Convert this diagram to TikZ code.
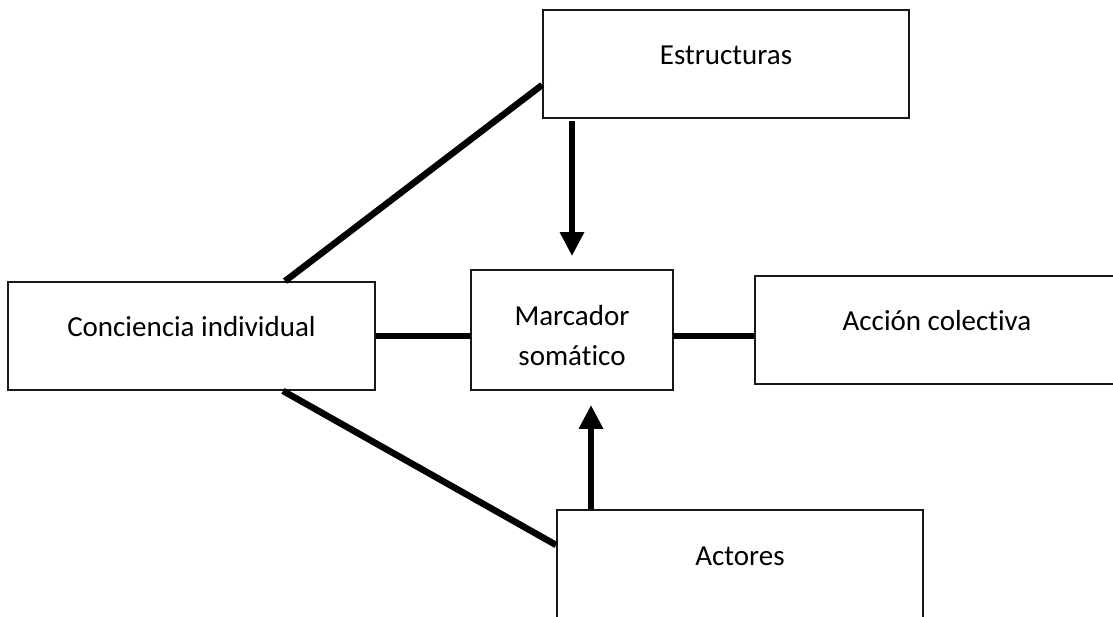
\documentclass[tikz,border=0pt]{standalone}
\usepackage{fontspec}
\setmainfont{Carlito}[Ligatures=NoCommon]
\usetikzlibrary{arrows.meta,calc}
\begin{document}
\begin{tikzpicture}[x=1pt,y=-1pt,
  box/.style={draw=black!90, line width=1.8pt, inner sep=0pt, font=\fontsize{29}{40}\selectfont},
  conn/.style={line width=6.5pt, black},
  arr/.style={conn, -{Triangle[length=24pt,width=23pt]}}]
\useasboundingbox (0,0) rectangle (1113,616);
\clip (0,0) rectangle (1113,616);
\node[box, minimum width=366pt, text height=54pt, text depth=54pt] (estr) at (726,64) {Estructuras};
\node[box, minimum width=367pt, text height=54pt, text depth=54pt] (conc) at (191.5,336) {Conciencia individual};
\node[box, minimum width=202pt, text height=55pt, text depth=65pt] (marc) at (572,330) {\begin{tabular}[t]{@{}c@{}}Marcador\\som\'atico\end{tabular}};
\node[box, minimum width=364pt, text height=54pt, text depth=54pt] (acc) at (937,330) {Acción colectiva};
\node[box, minimum width=366pt, text height=55pt, text depth=55pt] (act) at (740,565) {Actores};
\draw[conn] ([yshift=-21pt]estr.west) -- ([xshift=93.5pt]conc.north);
\draw[conn] ([xshift=91.5pt]conc.south) -- ([yshift=20pt]act.west);
\draw[conn] (conc.east) -- (conc.east -| marc.west);
\draw[conn] ([yshift=-6pt]marc.east) -- ([yshift=-6pt]marc.east -| acc.west);
\draw[arr] ([xshift=-154pt,yshift=-2pt]estr.south) -- ([yshift=13pt]marc.north);
\draw[arr] ([xshift=-149pt]act.north) -- ([xshift=19pt,yshift=-14pt]marc.south);
\end{tikzpicture}
\end{document}
